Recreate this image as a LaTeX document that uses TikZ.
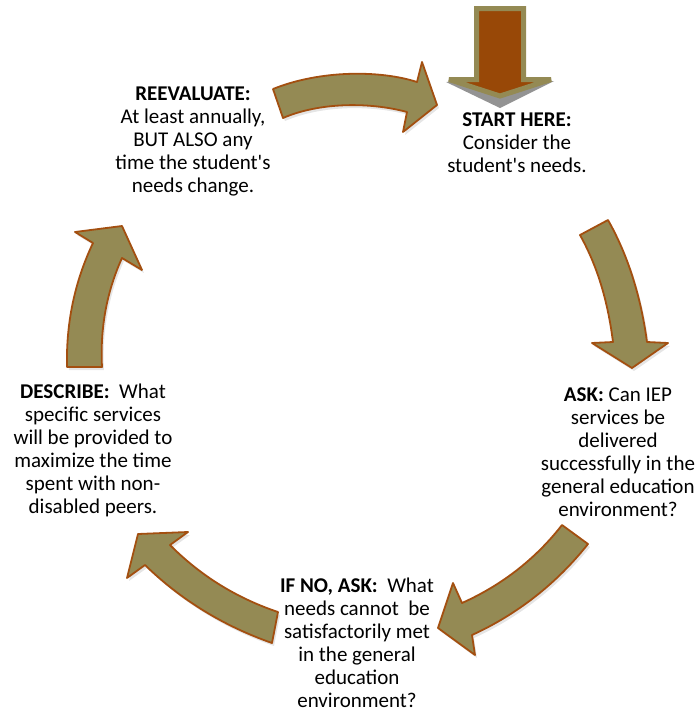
\documentclass[tikz,border=0pt]{standalone}
\usepackage{fontspec}
\setmainfont{Carlito}
\definecolor{olivefill}{HTML}{948A54}
\definecolor{rust}{HTML}{A34F10}
\definecolor{startbrown}{HTML}{984807}
\definecolor{startrim}{HTML}{948A54}
\begin{document}
\begin{tikzpicture}[x=1pt,y=-1pt,
  cyc/.style={fill=olivefill, draw=rust, line width=1.8pt, line join=round},
  softshade/.style={fill=black, opacity=0.10},
  lbl/.style={align=center, font=\fontsize{21}{23}\selectfont, inner sep=0pt, text=black}]
\useasboundingbox (0,0) rectangle (700,713);

% ---- arrow outlines ----
\def\arrowA{(273,89) .. controls (320,70) and (380,70) .. (417,82) -- (422,62) -- (437,105) -- (403,132) -- (407,112) .. controls (370,102) and (320,102) .. (283,118) -- cycle}
\def\arrowB{(580,235) -- (608,220) .. controls (625,250) and (640,290) .. (647,342) -- (668,343) -- (632,368) -- (592,343) -- (613,342) .. controls (607,295) and (595,262) .. (580,235) -- cycle}
\def\arrowC{(562,525) -- (588,544) .. controls (557,583) and (518,614) .. (472,635) -- (475,655) -- (438,628) -- (453,583) -- (462,603) .. controls (502,585) and (535.5,559) .. (562,525) -- cycle}
\def\arrowD{(278,612) .. controls (236.4,598) and (200.4,575.6) .. (170,545) -- (188,532) -- (138,534) -- (127,578) -- (145,565) .. controls (181,600) and (223.5,626) .. (272,643) -- cycle}
\def\arrowE{(67,367) .. controls (66,323) and (74.7,281.5) .. (93,243) -- (75,232) -- (122,226) -- (142,270) -- (122,258) .. controls (106.7,291.8) and (100,328) .. (102,367) -- cycle}

% soft shadows
\fill[softshade, shift={(2,3)}] \arrowA;
\fill[softshade, shift={(2,3)}] \arrowB;
\fill[softshade, shift={(2,3)}] \arrowC;
\fill[softshade, shift={(2,3)}] \arrowD;
\fill[softshade, shift={(2,3)}] \arrowE;

% cycle arrows
\draw[cyc] \arrowA;
\draw[cyc] \arrowB;
\draw[cyc] \arrowC;
\draw[cyc] \arrowD;
\draw[cyc] \arrowE;

% start arrow
\fill[gray!85] (446,82) -- (554,81) -- (500,108) -- cycle;
\draw[fill=startbrown, draw=startrim, line width=5pt, line join=miter, miter limit=2]
  (476.5,8.5) -- (523.5,8.5) -- (523.5,79.5) -- (551,79.5) -- (500,96) -- (449,79.5) -- (476.5,79.5) -- cycle;

% ---- labels ----
\node[lbl] (reeval) at (193,141) {\textbf{REEVALUATE:}\\At least annually,\\BUT ALSO any\\time the student\textquotesingle s\\needs change.};
\node[lbl] (start) at (517,143) {\textbf{START HERE:}\\Consider the\\student\textquotesingle s needs.};
\node[lbl] (ask) at (618,452) {\textbf{ASK:} Can IEP\\services be\\delivered\\successfully in the\\general education\\environment?};
\node[lbl] (describe) at (93,450) {\textbf{DESCRIBE:}\ \ What\\specific services\\will be provided to\\maximize the time\\spent with non-\\disabled peers.};
\node[lbl] (ifno) at (357,643) {\textbf{IF NO, ASK:}\ \ What\\needs cannot\ \ be\\satisfactorily met\\in the general\\education\\environment?};
\end{tikzpicture}
\end{document}
